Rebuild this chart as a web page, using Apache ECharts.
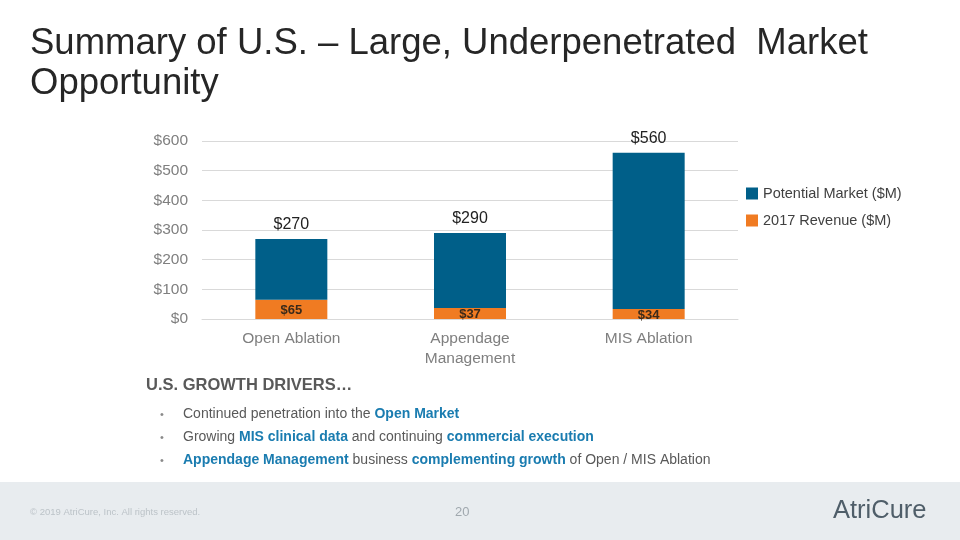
<!DOCTYPE html>
<html><head><meta charset="utf-8">
<script src="https://cdn.jsdelivr.net/npm/echarts@6/dist/echarts.min.js"></script>
<style>html,body{margin:0;padding:0;background:#fff}#c{width:960px;height:540px}</style>
</head><body><div id="c"></div>
<script>
var categories = ['Open Ablation', 'Appendage\nManagement', 'MIS Ablation'];
var potentialMarket = [270, 290, 560];
var revenue2017 = [65, 37, 34];
var yTicks = [0, 100, 200, 300, 400, 500, 600];
var seriesNames = ['Potential Market ($M)', '2017 Revenue ($M)'];

var remaining = potentialMarket.map(function (v, i) { return v - revenue2017[i]; });
var FONT = '"Liberation Sans", Arial, sans-serif';
var chart = echarts.init(document.getElementById('c'));
chart.setOption({
  animation: false,
  backgroundColor: '#fff',
  grid: { left: 202, right: 222, top: 141, bottom: 221, containLabel: false },
  legend: {
    orient: 'vertical', left: 741, top: 181, itemWidth: 12, itemHeight: 12, itemGap: 12,
    icon: 'rect',
    data: [seriesNames[0], seriesNames[1]],
    textStyle: { color: '#404040', fontSize: 14.5, fontFamily: FONT }
  },
  xAxis: {
    type: 'category', data: categories,
    axisLine: { show: true, lineStyle: { color: '#d9d9d9' } },
    axisTick: { show: false },
    axisLabel: { color: '#7f7f7f', fontSize: 15.5, fontFamily: FONT, margin: 10, lineHeight: 20 }
  },
  yAxis: {
    type: 'value', min: yTicks[0], max: yTicks[yTicks.length - 1], interval: 100,
    axisLine: { show: false }, axisTick: { show: false },
    splitLine: { lineStyle: { color: '#d9d9d9' } },
    axisLabel: { color: '#7f7f7f', fontSize: 15.5, fontFamily: FONT, margin: 14,
      formatter: function (v) { return '$' + v; } }
  },
  series: [
    {
      name: seriesNames[1], type: 'bar', stack: 's', data: revenue2017, barWidth: 72,
      itemStyle: { color: '#f07b22' },
      label: { show: true, position: 'inside', offset: [0, 1], color: '#3b2a1a', fontWeight: 'bold', fontSize: 13, fontFamily: FONT,
        formatter: function (p) { return '$' + p.value; } }
    },
    {
      name: seriesNames[0], type: 'bar', stack: 's', data: remaining, barWidth: 72,
      itemStyle: { color: '#005f89' },
      label: { show: true, position: 'top', distance: 6, color: '#222', fontSize: 16, fontFamily: FONT,
        formatter: function (p) { return '$' + potentialMarket[p.dataIndex]; } }
    }
  ],
  graphic: [
    { type: 'text', left: 30, top: 24, style: { text: 'Summary of U.S. – Large, Underpenetrated  Market\nOpportunity', fill: '#262626', fontSize: 36.5, lineHeight: 40, fontFamily: FONT } },
    { type: 'text', left: 146, top: 377, style: { text: 'U.S. GROWTH DRIVERS…', fill: '#595959', fontSize: 16.5, fontWeight: 'bold', fontFamily: FONT } },
    { type: 'text', left: 160, top: 403, style: { text: '•\n•\n•', fill: '#8a8a8a', fontSize: 11, lineHeight: 23, fontFamily: FONT } },
    { type: 'text', left: 183, top: 403, style: {
      text: '{g|Continued penetration into the }{b|Open Market}\n{g|Growing }{b|MIS clinical data}{g| and continuing }{b|commercial execution}\n{b|Appendage Management}{g| business }{b|complementing growth}{g| of Open / MIS Ablation}',
      fill: '#595959', fontSize: 14, lineHeight: 23, fontFamily: FONT,
      rich: {
        g: { fill: '#595959', fontSize: 14, fontFamily: FONT, lineHeight: 23 },
        b: { fill: '#1a7cb0', fontSize: 14, fontWeight: 'bold', fontFamily: FONT, lineHeight: 23 }
      } } },
    { type: 'rect', left: 0, top: 482, shape: { width: 960, height: 58 }, style: { fill: '#e8ecef' }, z: -1 },
    { type: 'text', left: 30, top: 507, style: { text: '© 2019 AtriCure, Inc. All rights reserved.', fill: '#bcc3c8', fontSize: 9.5, fontFamily: FONT } },
    { type: 'text', left: 455, top: 506, style: { text: '20', fill: '#a0a8ae', fontSize: 13, fontFamily: FONT } },
    { type: 'text', left: 833, top: 498, style: { text: 'AtriCure', fill: '#4f5e69', fontSize: 25.5, fontFamily: FONT } }
  ]
});
</script></body></html>
